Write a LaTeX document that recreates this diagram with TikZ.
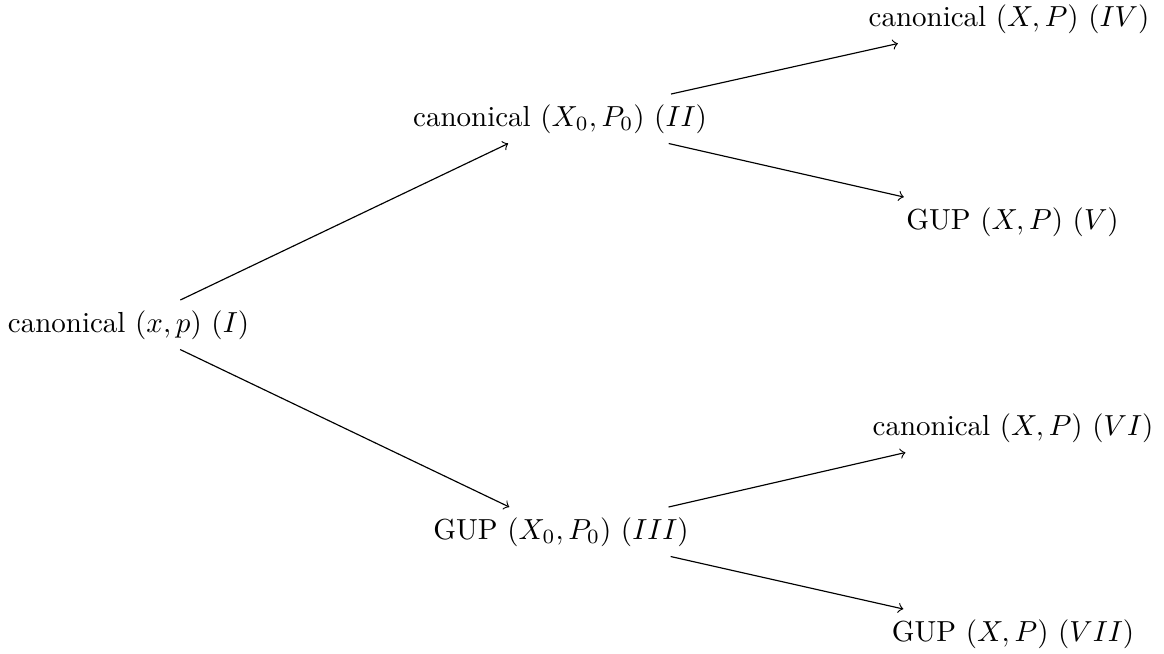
\documentclass[tikz,border=0pt]{standalone}
\begin{document}
\begin{tikzpicture}[x=0.3448pt,y=-0.3448pt,
  lbl/.style={anchor=base},
  link/.style={->}]
\useasboundingbox (0,0) rectangle (1164,653);
\node[lbl] (I)   at (128.5,332) {canonical $(x,p)$ $(I)$};
\node[lbl] (II)  at (560,126) {canonical $(X_0,P_0)$ $(II)$};
\node[lbl] (III) at (561,539) {GUP $(X_0,P_0)$ $(III)$};
\node[lbl] (IV)  at (1009,26) {canonical $(X,P)$ $(IV)$};
\node[lbl] (V)   at (1012.5,229) {GUP $(X,P)$ $(V)$};
\node[lbl] (VI)  at (1013,435) {canonical $(X,P)$ $(VI)$};
\node[lbl] (VII) at (1013,641) {GUP $(X,P)$ $(VII)$};
\draw[link] (I) -- (II);
\draw[link] (I) -- (III);
\draw[link] (II) -- (IV);
\draw[link] (II) -- (V);
\draw[link] (III) -- (VI);
\draw[link] (III) -- (VII);
\end{tikzpicture}
\end{document}
